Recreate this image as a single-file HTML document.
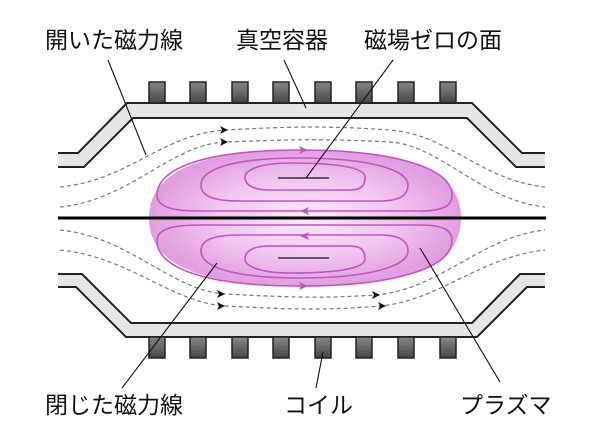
<!DOCTYPE html>
<html><head><meta charset="utf-8"><style>
html,body{margin:0;padding:0;background:#fff;}
svg{display:block}
text{font-family:"Liberation Sans","Noto Sans CJK JP",sans-serif;font-size:23px;fill:#111;}
</style></head><body>
<svg width="600" height="442" viewBox="0 0 600 442" xmlns="http://www.w3.org/2000/svg">
<defs>
<radialGradient id="pg" cx="0.5" cy="0.5" r="0.5">
<stop offset="0" stop-color="#fbeafb"/><stop offset="0.6" stop-color="#f0c4ef"/><stop offset="1" stop-color="#e09fdf"/>
</radialGradient>
<linearGradient id="cg" x1="0" y1="0" x2="0" y2="1"><stop offset="0" stop-color="#888"/><stop offset="1" stop-color="#444"/></linearGradient>
</defs>
<!-- vessel top -->
<path d="M58,153 L78,153 L127,103 L472,103 L522,153 L545,153 L545,167 L516,167 L467,118 L133,118 L84,167 L58,167 Z" fill="#e6e6e6"/>
<path d="M58,153 L78,153 L127,103 L472,103 L522,153 L545,153 M58,167 L84,167 L133,118 L467,118 L516,167 L545,167" fill="none" stroke="#222" stroke-width="2"/>
<!-- vessel bottom -->
<path d="M58,274 L82,274 L131,323 L472,323 L520,274 L545,274 L545,287 L527,287 L477,337 L126,337 L76,287 L58,287 Z" fill="#e6e6e6"/>
<path d="M58,274 L82,274 L131,323 L472,323 L520,274 L545,274 M58,287 L76,287 L126,337 L477,337 L527,287 L545,287" fill="none" stroke="#222" stroke-width="2"/>
<!-- coils -->
<g fill="url(#cg)" stroke="#222" stroke-width="1.5">
<rect x="149" y="82" width="16" height="21"/><rect x="190" y="82" width="16" height="21"/><rect x="232" y="82" width="16" height="21"/><rect x="273" y="82" width="16" height="21"/><rect x="315" y="82" width="16" height="21"/><rect x="356" y="82" width="16" height="21"/><rect x="398" y="82" width="16" height="21"/><rect x="440" y="82" width="16" height="21"/>
<rect x="149" y="337" width="16" height="21"/><rect x="190" y="337" width="16" height="21"/><rect x="232" y="337" width="16" height="21"/><rect x="273" y="337" width="16" height="21"/><rect x="315" y="337" width="16" height="21"/><rect x="356" y="337" width="16" height="21"/><rect x="398" y="337" width="16" height="21"/><rect x="440" y="337" width="16" height="21"/>
</g>
<!-- dashed field lines -->
<g fill="none" stroke="#777" stroke-width="1.2" stroke-dasharray="4,3">
<path d="M60,187 C130,180 160,135 225,130 C300,126 330,126 390,130 C450,135 480,180 545,187"/>
<path d="M60,207 C130,200 170,145 225,142 C300,139 330,139 390,142 C440,145 480,200 545,207"/>
<path d="M60,230 C130,237 170,290 225,294 C300,298 330,298 375,295 C440,290 480,237 545,230"/>
<path d="M60,250 C130,257 170,302 225,306 C300,310 330,310 381,306 C440,300 480,257 545,250"/>
</g>
<g fill="#111">
<path d="M228,130 l-8,-4 2,4 -2,4z"/><path d="M228,142 l-8,-4 2,4 -2,4z"/>
<path d="M225,294 l-8,-4 2,4 -2,4z"/><path d="M225,306 l-8,-4 2,4 -2,4z"/>
<path d="M380,295 l-8,-4 2,4 -2,4z"/><path d="M386,306 l-8,-4 2,4 -2,4z"/>
</g>
<!-- plasma -->
<path d="M149,218 C149,163 220,150 305,150 C390,150 461,163 461,218 C461,273 390,286 305,286 C220,286 149,273 149,218Z" fill="url(#pg)"/>
<g id="lp" fill="none" stroke="#c352c3" stroke-width="1.6">
<path d="M300,150 C200,150 157,170 157,195 C157,208 175,211 200,211 L420,211 C445,211 452,205 452,195 C452,170 400,150 300,150Z"/>
<path d="M300,158 C230,158 201,170 201,185 C201,197 215,201 240,201 L380,201 C400,201 408,195 408,185 C408,170 370,158 300,158Z"/>
<path d="M290,163 C260,163 245,170 245,177 C245,186 255,190 270,190 L350,190 C362,190 365,185 365,177 C365,168 340,163 290,163Z"/>
</g>
<use href="#lp" transform="translate(0,436) scale(1,-1)"/>
<g fill="#c352c3">
<path d="M308,150 l-9,-4 2,4 -2,4z"/><path d="M300,211 l9,-4 -2,4 2,4z"/>
<path d="M308,286 l-9,-4 2,4 -2,4z"/><path d="M300,236 l9,-4 -2,4 2,4z"/>
</g>
<!-- midline & zero lines -->
<line x1="58" y1="218" x2="546" y2="218" stroke="#000" stroke-width="3"/>
<line x1="278" y1="178" x2="329" y2="178" stroke="#333" stroke-width="1.6"/>
<line x1="278" y1="258" x2="329" y2="258" stroke="#333" stroke-width="1.6"/>
<!-- leaders -->
<g stroke="#111" stroke-width="1.1">
<line x1="108" y1="60" x2="146" y2="155"/>
<line x1="284" y1="60" x2="306" y2="108"/>
<line x1="393" y1="60" x2="306" y2="178"/>
<line x1="217" y1="263" x2="122" y2="388"/>
<line x1="323" y1="352" x2="316" y2="388"/>
<line x1="420" y1="248" x2="500" y2="382"/>
</g>
<text x="45" y="48">開いた磁力線</text>
<text x="236" y="48">真空容器</text>
<text x="364" y="48">磁場ゼロの面</text>
<text x="45" y="413">閉じた磁力線</text>
<text x="284" y="413">コイル</text>
<text x="460" y="413">プラズマ</text>
</svg>
</body></html>
